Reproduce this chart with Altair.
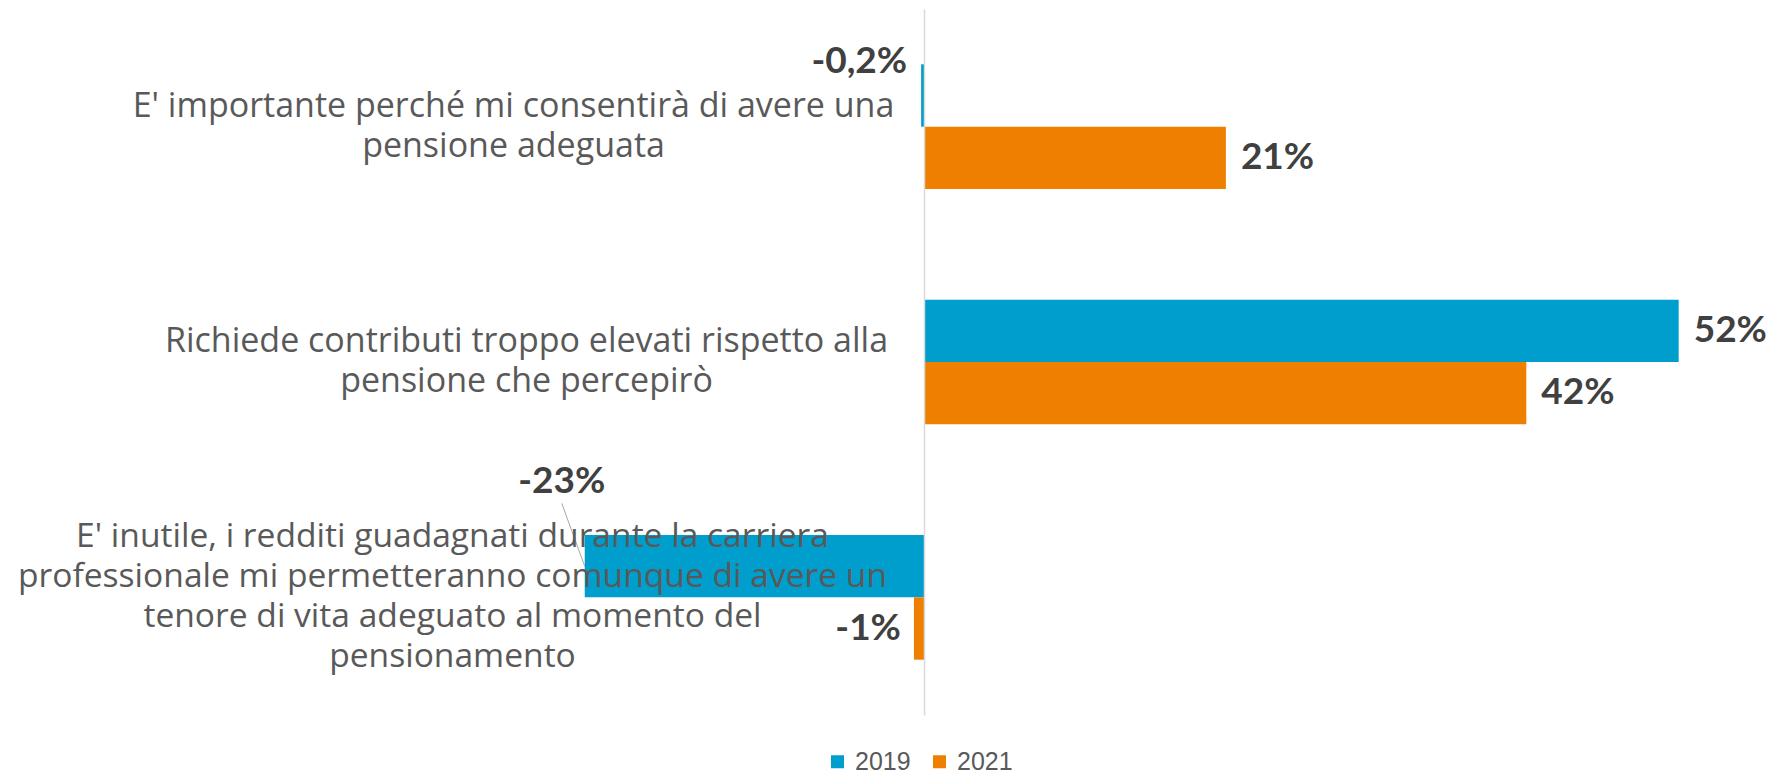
import altair as alt
import pandas as pd

categories = [
    "E' importante perché mi consentirà di avere una\npensione adeguata",
    "Richiede contributi troppo elevati rispetto alla\npensione che percepirò",
    "E' inutile, i redditi guadagnati durante la carriera\nprofessionale mi permetteranno  comunque di avere un\ntenore di vita adeguato al momento del\npensionamento",
]
years = ["2019", "2021"]
values_2019 = [-0.2, 52.5, -23.6]
values_2021 = [21.0, 41.9, -0.7]
labels_2019 = ["-0,2%", "52%", "-23%"]
labels_2021 = ["21%", "42%", "-1%"]
colors = ["#009ECC", "#EE7F00"]

rows = []
for i, c in enumerate(categories):
    rows.append({"cat": c, "year": years[0], "value": values_2019[i], "label": labels_2019[i]})
    rows.append({"cat": c, "year": years[1], "value": values_2021[i], "label": labels_2021[i]})
df = pd.DataFrame(rows)

CAT_FONT = "Open Sans"
VAL_FONT = "Lato"
IS3 = "indexof(datum.value, 'inutile') >= 0"
IS1 = "indexof(datum.value, 'importante') >= 0"

X = alt.X("value:Q", scale=alt.Scale(domain=[-32, 56], nice=False, zero=False), axis=None)
Y = alt.Y(
    "cat:N",
    sort=categories,
    title=None,
    scale=alt.Scale(paddingInner=0.47, paddingOuter=0.235),
    axis=alt.Axis(
        labelExpr="split(datum.value, '\\n')",
        labelAlign="center",
        labelBaseline="middle",
        labelPadding={
            "condition": [
                {"test": IS3, "value": 472},
                {"test": IS1, "value": 411},
            ],
            "value": 398,
        },
        labelOffset={"condition": {"test": IS3, "value": -60}, "value": -20},
        labelFontSize={"condition": {"test": IS3, "value": 33.6}, "value": 34},
        labelFont=CAT_FONT,
        labelLineHeight=40,
        labelColor="#595959",
        labelLimit=2000,
        ticks=False,
        tickSize=0,
        grid=False,
        domain=True,
        domainColor="#D9D9D9",
        domainWidth=1.5,
        offset=-460,
        zindex=1,
    ),
)
YO = alt.YOffset("year:N", sort=years, scale=alt.Scale(paddingInner=0, paddingOuter=0))

base = alt.Chart(df)

bars = base.mark_bar().encode(
    x=X,
    y=Y,
    yOffset=YO,
    color=alt.Color(
        "year:N",
        scale=alt.Scale(domain=years, range=colors),
        legend=alt.Legend(
            orient="none",
            legendX=361,
            legendY=740,
            direction="horizontal",
            title=None,
            symbolType="square",
            symbolSize=169,
            symbolStrokeWidth=0,
            labelFont="Liberation Sans",
            labelFontSize=25,
            labelColor="#595959",
            columnPadding=16,
            labelOffset=5,
            padding=0,
        ),
    ),
)

txt_style = dict(font=VAL_FONT, fontSize=37, fontWeight="bold", color="#404040", baseline="middle")

pos_text = base.transform_filter("datum.value > 0").mark_text(align="left", dx=15, **txt_style).encode(
    x=X, y=Y, yOffset=YO, text="label:N"
)
neg1_text = base.transform_filter("datum.label == '-1%'").mark_text(align="right", dx=-13, **txt_style).encode(
    x=X, y=Y, yOffset=YO, text="label:N"
)
neg02_text = base.transform_filter("datum.label == '-0,2%'").mark_text(align="right", dx=-14, dy=-33, **txt_style).encode(
    x=X, y=Y, yOffset=YO, text="label:N"
)
neg23_text = base.transform_filter("datum.label == '-23%'").mark_text(align="center", dx=-23, dy=-84, **txt_style).encode(
    x=X, y=Y, yOffset=YO, text="label:N"
)
leader = base.transform_filter("datum.label == '-23%'").mark_rule(
    color="#A6A6A6", strokeWidth=1, x2Offset=-23, yOffset=-31, y2Offset=-94
).encode(x=X, x2=alt.X2("value:Q"), y=Y, y2=alt.Y2("cat:N"))

chart = (
    alt.layer(bars, leader, pos_text, neg1_text, neg02_text, neg23_text)
    .properties(
        width=1265,
        height=706,
        autosize=alt.AutoSizeParams(type="none"),
        padding={"left": 456, "top": 1, "right": 40, "bottom": 60},
        background="white",
    )
    .configure_view(stroke=None)
)

chart.save("out.html", embed_options={"renderer": "svg", "actions": False})
